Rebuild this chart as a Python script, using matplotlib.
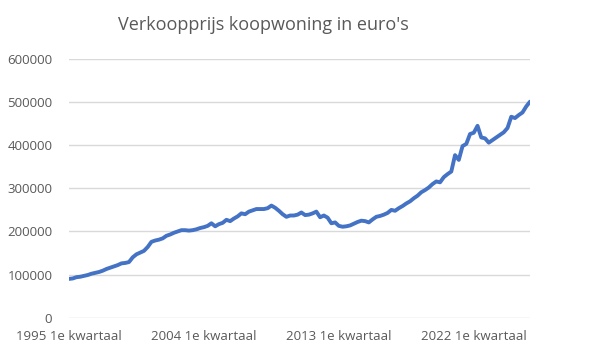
import matplotlib.pyplot as plt

# verkoopprijs per kwartaal (x 1000 euro), 1995 Q1 t/m 2025 Q4
prijs_k = [
    90, 91, 94, 95,        # 1995
    97, 99, 102, 104,      # 1996
    106, 109, 113, 116,    # 1997
    119, 122, 126, 127,    # 1998
    129, 140, 147, 151,    # 1999
    155, 164, 176, 179,    # 2000
    181, 184, 190, 193,    # 2001
    197, 200, 203, 203,    # 2002
    202, 203, 205, 208,    # 2003
    210, 213, 219, 212,    # 2004
    217, 220, 227, 224,    # 2005
    230, 235, 242, 240,    # 2006
    246, 249, 252, 252,    # 2007
    252, 254, 260, 255,    # 2008
    248, 240, 234, 237,    # 2009
    237, 239, 244, 238,    # 2010
    239, 242, 246, 233,    # 2011
    237, 232, 219, 221,    # 2012
    213, 211, 212, 214,    # 2013
    218, 222, 225, 224,    # 2014
    221, 228, 234, 236,    # 2015
    239, 243, 250, 248,    # 2016
    254, 259, 265, 270,    # 2017
    277, 283, 291, 296,    # 2018
    302, 310, 316, 314,    # 2019
    326, 333, 339, 377,    # 2020
    366, 398, 403, 426,    # 2021
    429, 445, 418, 416,    # 2022
    406, 412, 418, 424,    # 2023
    430, 440, 466, 463,    # 2024
    470, 476, 490, 501,    # 2025
]
prijs = [p * 1000 for p in prijs_k]

jaren = [1995 + i // 4 for i in range(len(prijs))]
kwartalen = [f"{j} {i % 4 + 1}e kwartaal" for i, j in enumerate(jaren)]
label_pos = [0, 36, 72, 108]
y_ticks = [0, 100000, 200000, 300000, 400000, 500000, 600000]

fig = plt.figure(figsize=(5.93, 3.55), dpi=100)
ax = fig.add_axes([69 / 593, 1 - 317.7 / 355, 461 / 593, 258.7 / 355])

ax.plot(range(len(prijs)), prijs, color='#4472C4', lw=2.8, solid_capstyle='round')

ax.set_ylim(0, 600000)
ax.set_xlim(0, len(prijs) - 1)
ax.set_yticks(y_ticks)
ax.set_yticklabels([str(v) for v in y_ticks])
ax.set_xticks(label_pos)
ax.set_xticklabels([kwartalen[i] for i in label_pos])
ax.grid(axis='y', color='#D9D9D9', lw=1)
ax.set_axisbelow(True)
for s in ax.spines.values():
    s.set_visible(False)
ax.tick_params(axis='both', length=0, labelsize=9.5, labelcolor='#595959')
ax.tick_params(axis='y', pad=12)
ax.tick_params(axis='x', pad=9)
for t in ax.get_xticklabels() + ax.get_yticklabels():
    t.set_family('Open Sans')

fig.text(263.5 / 593, 1 - 25 / 355, "Verkoopprijs koopwoning in euro's",
         ha='center', va='center', fontsize=13, color='#595959', family='Open Sans')

fig.savefig('out.png', dpi=100, facecolor='white')
